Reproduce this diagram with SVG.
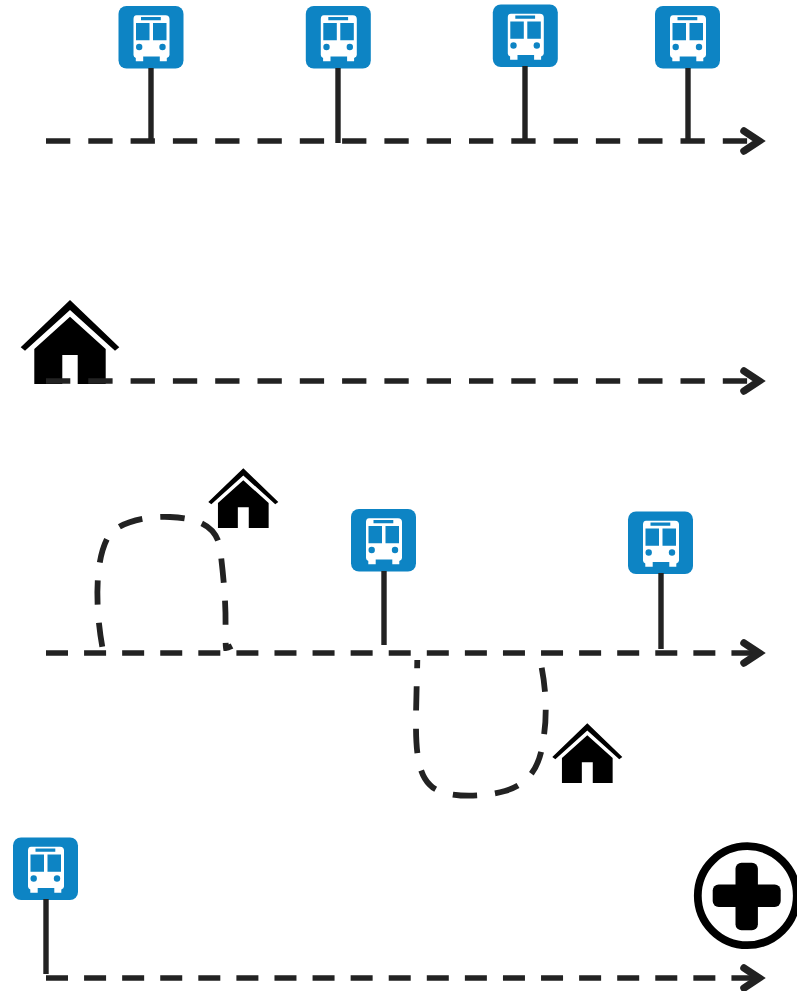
<svg xmlns="http://www.w3.org/2000/svg" width="797" height="991" viewBox="0 0 797 991">
<style>
.ln{fill:none;stroke:#222;stroke-width:5.5}
.lp{fill:none;stroke:#222;stroke-width:5.8;stroke-dasharray:24.3 18}
.d1{stroke-dasharray:24.3 18}
.d2{stroke-dasharray:22 16.08}
.hd{fill:none;stroke:#222;stroke-width:7.5;stroke-linecap:round;stroke-linejoin:miter}
.pole{stroke:#222;stroke-width:5.4;fill:none}
</style>
<defs>
<g id="bus">
<rect x="0" y="0" width="65" height="62.5" rx="8" fill="#0d84c4"/>
<path fill="#fff" d="M18,9.2H47Q51,9.2 51,13V49Q51,51 48.3,52V55.3H41.3V50.5H24.7V55.3H17.3V52Q15,51 15,49V13Q15,9.2 18,9.2Z"/>
<path fill="#0d84c4" d="M22.5,11H42.3V14.3H22.5ZM17.5,17H31V34.3H17.5ZM34.5,17H48V34.3H34.5Z"/>
<circle cx="20.7" cy="41" r="3.2" fill="#0d84c4"/>
<circle cx="44" cy="41" r="3.2" fill="#0d84c4"/>
</g>
<g id="house">
<path fill="#000" d="M0,0L49.3,47.3L45,50.7L0,10L-45,50.7L-49.3,47.3Z"/>
<path fill="#000" d="M0,16.7L35.7,49V84H7.7V55H-7.7V84H-35.7V49Z"/>
</g>
</defs>
<g id="stop-1-1"><use href="#bus" x="118.5" y="6"/></g>
<g id="stop-1-2"><use href="#bus" x="305.8" y="6"/></g>
<g id="stop-1-3"><use href="#bus" x="492.8" y="4.5"/></g>
<g id="stop-1-4"><use href="#bus" x="655" y="6"/></g>
<g id="home-2"><use href="#house" x="70" y="300"/></g>
<g id="home-3a"><use href="#house" transform="translate(243.3 468.3) scale(.71)"/></g>
<g id="stop-3-1"><use href="#bus" x="351" y="509"/></g>
<g id="stop-3-2"><use href="#bus" x="628" y="511.5"/></g>
<g id="home-3b"><use href="#house" transform="translate(587.3 723.3) scale(.71)"/></g>
<g id="stop-4"><use href="#bus" x="13" y="837.5"/></g>
<g id="hospital">
<circle cx="747.3" cy="895.7" r="49.5" fill="#fff" stroke="#000" stroke-width="7.8"/>
<rect x="735.5" y="862.7" width="22.4" height="67.5" rx="6"/>
<rect x="712.7" y="884.6" width="68" height="22.4" rx="6"/>
</g>
<g id="connectors">
<path class="pole" d="M151,68V141M338,68V143M525,66V141M688,68V141M384,571V645M661,573V649M46,899V974"/>
<path class="ln d1" d="M46,141H760"/>
<path class="hd" d="M744,131L759,141L744,151"/>
<path class="ln d1" d="M46,381H760"/>
<path class="hd" d="M744,371L759,381L744,391"/>
<path class="ln d2" d="M46,653H760"/>
<path class="hd" d="M744,643L759,653L744,663"/>
<path class="ln d2" d="M46,978H760"/>
<path class="hd" d="M744,968L759,978L744,988"/>
<path class="lp" d="M102.3,646.7C96,612 94,565 107,539C116,522 145,516 170,517C195,518 216,524 220,548C224,580 226,605 225.5,628C225.5,635 225.5,645 226,648Q228,648 232,646"/>
<path class="lp" d="M541.7,667.7C546,690 547,715 544,735C541,762 533,783 505,791C480,798 442,798 430,785C418,774 416,750 416,725C416,700 417,680 417.3,660"/>
</g>
</svg>
